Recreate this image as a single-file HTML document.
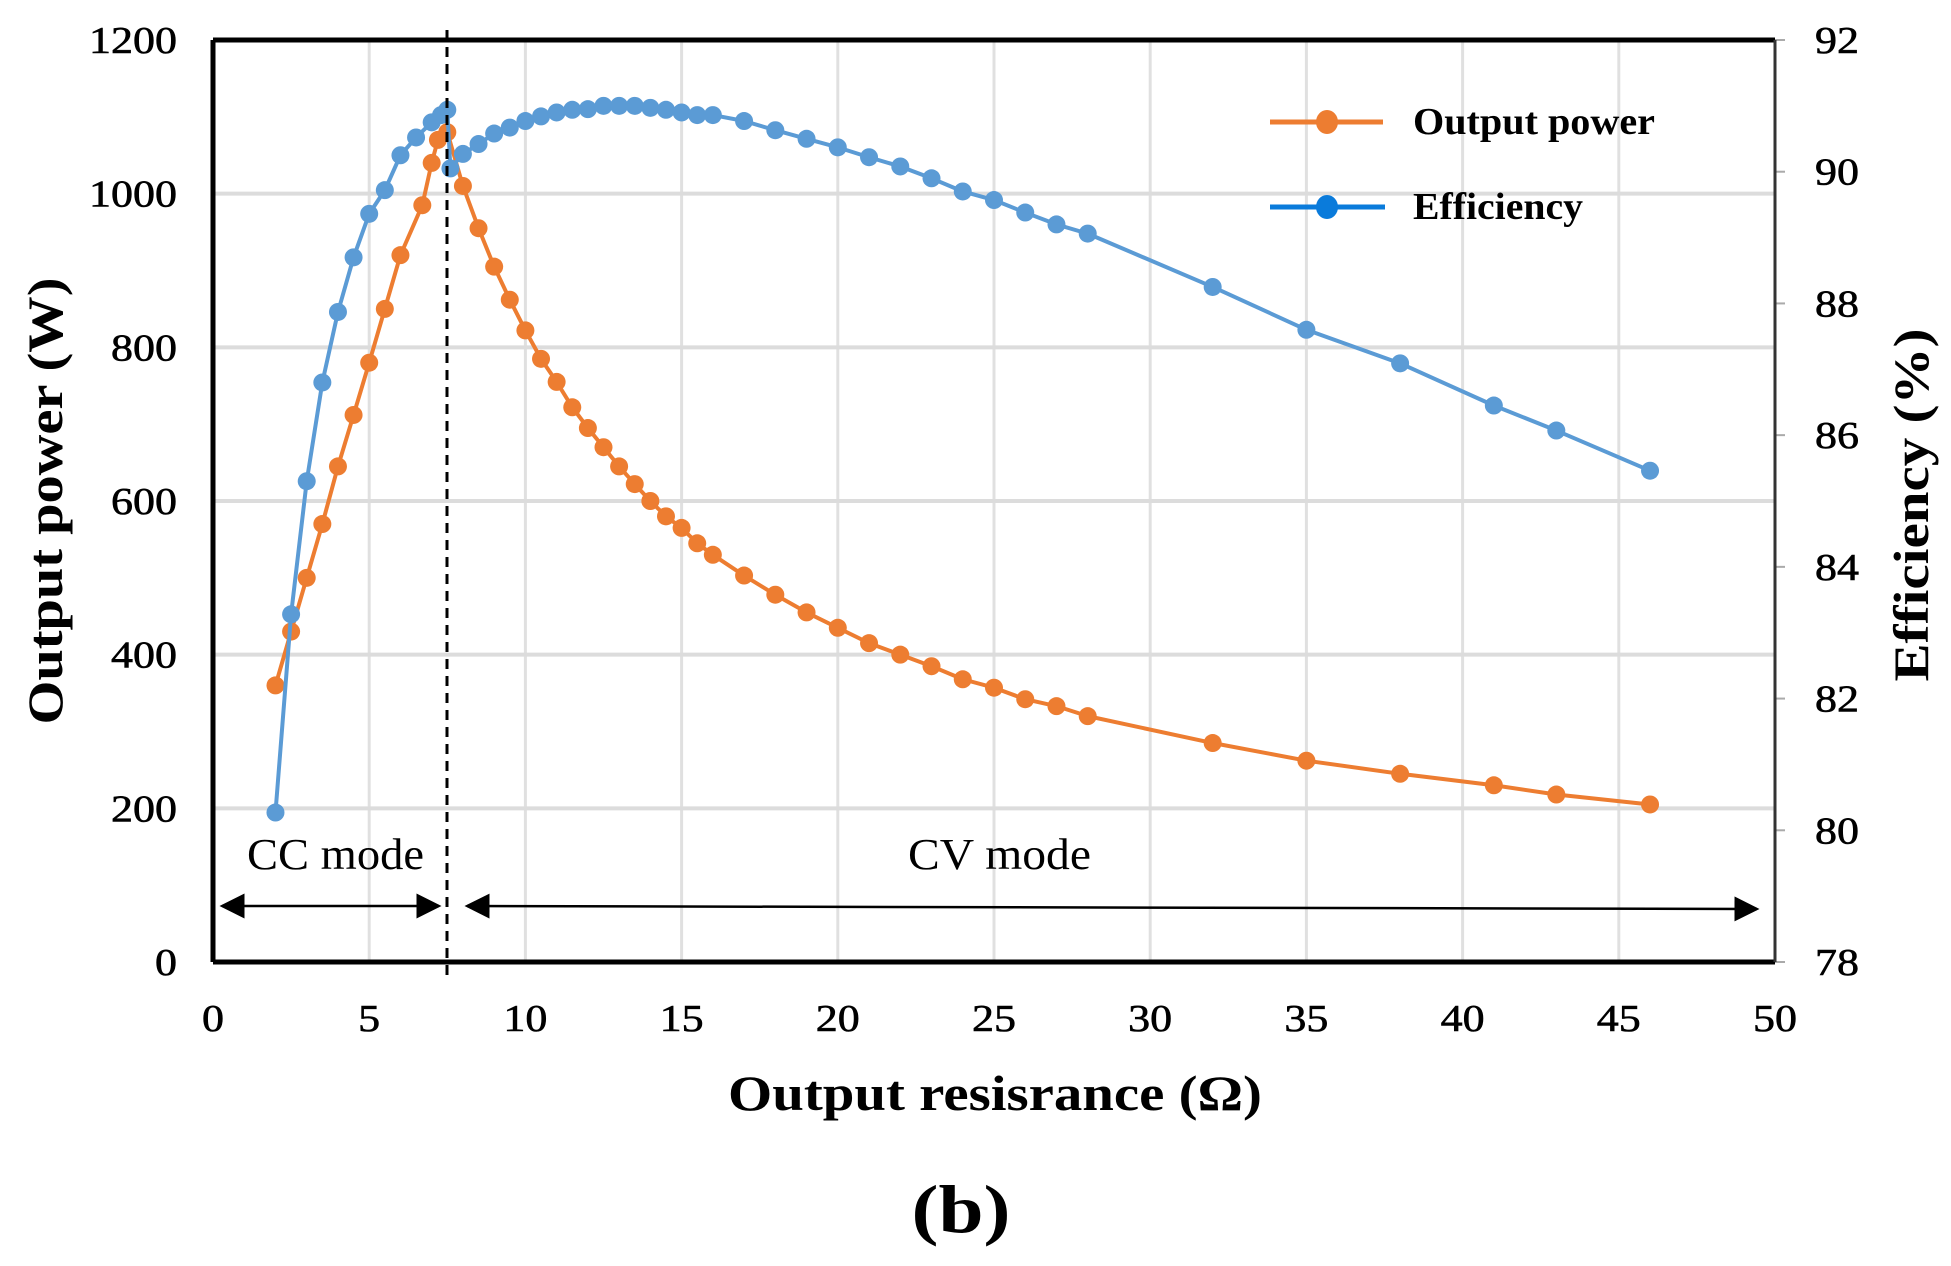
<!DOCTYPE html>
<html><head><meta charset="utf-8"><style>
html,body{margin:0;padding:0;background:#fff;}
svg{display:block;font-family:"Liberation Serif",serif;}
</style></head><body>
<svg id="chart" width="1951" height="1266" viewBox="0 0 1951 1266">
<g id="grid"></g>
<g id="series"></g>
<g id="axes"></g>
</svg>
<script>
const xs = [2,2.5,3,3.5,4,4.5,5,5.5,6,6.7,7,7.2,7.5,8,8.5,9,9.5,10,10.5,11,11.5,12,12.5,13,13.5,14,14.5,15,15.5,16,17,18,19,20,21,22,23,24,25,26,27,28,32,35,38,41,43,46];
const powerVals = [360,430,500,570,645,712,780,850,920,985,1040,1070,1080,1010,955,905,862,822,785,755,722,695,670,645,622,600,580,565,545,530,503,478,455,435,415,400,385,368,357,342,333,320,285,262,245,230,218,205];
const effX = [2,2.5,3,3.5,4,4.5,5,5.5,6,6.5,7,7.3,7.5,7.6,8,8.5,9,9.5,10,10.5,11,11.5,12,12.5,13,13.5,14,14.5,15,15.5,16,17,18,19,20,21,22,23,24,25,26,27,28,32,35,38,41,43,46];
const effVals = [80.27,83.28,85.3,86.8,87.87,88.7,89.36,89.72,90.25,90.52,90.75,90.86,90.94,90.05,90.27,90.42,90.58,90.67,90.77,90.84,90.9,90.94,90.95,91.0,91.0,91.0,90.97,90.94,90.9,90.86,90.86,90.77,90.63,90.5,90.37,90.22,90.08,89.9,89.7,89.57,89.38,89.2,89.06,88.25,87.6,87.09,86.45,86.07,85.46];
const xTicks = [0,5,10,15,20,25,30,35,40,45,50];
const powerTicks = [0,200,400,600,800,1000,1200];
const effTicks = [78,80,82,84,86,88,90,92];

const L=213,R=1775,T=40,B=962;
const sx=v=>L+(v-0)/(50-0)*(R-L);
const sy=v=>B-(v/1200)*(B-T);
const se=v=>B-((v-78)/14)*(B-T);
const NS="http://www.w3.org/2000/svg";
function mk(p,tag,attrs){const e=document.createElementNS(NS,tag);for(const k in attrs)e.setAttribute(k,attrs[k]);p.appendChild(e);return e;}
const grid=document.getElementById('grid'),ser=document.getElementById('series'),ax=document.getElementById('axes');
function tl(s){return String(s).length*22;}

xTicks.forEach(t=>{
  if(t>0&&t<50){const g=mk(grid,'line',{x1:sx(t),x2:sx(t),y1:T,y2:B,stroke:'#e0e0e0','stroke-width':3});
  
  }
  const tx=mk(ax,'text',{x:sx(t),y:1031,'text-anchor':'middle','font-size':38,fill:'#000',stroke:'#000','stroke-width':0.6,textLength:tl(t),lengthAdjust:'spacingAndGlyphs'});tx.textContent=t;
  
  
});
powerTicks.forEach(t=>{
  if(t>0&&t<1200){const g=mk(grid,'line',{x1:L,x2:R,y1:sy(t),y2:sy(t),stroke:'#dcdcdc','stroke-width':4});
  
  }
  const tx=mk(ax,'text',{x:177,y:sy(t)+13,'text-anchor':'end','font-size':38,fill:'#000',stroke:'#000','stroke-width':0.6,textLength:tl(t),lengthAdjust:'spacingAndGlyphs'});tx.textContent=t;
  
  
});
effTicks.forEach(t=>{
  const tk=mk(ax,'line',{x1:R,x2:R+10,y1:se(t),y2:se(t),stroke:'#aaa','stroke-width':2});
  
  
  const tx=mk(ax,'text',{x:1815,y:se(t)+13,'text-anchor':'start','font-size':38,fill:'#000',stroke:'#000','stroke-width':0.6,textLength:tl(t),lengthAdjust:'spacingAndGlyphs'});tx.textContent=t;
  
  
});

function series(xv,yv,scale,color,name){
  const pts=xv.map((x,i)=>sx(x)+','+scale(yv[i])).join(' ');
  const pl=mk(ser,'polyline',{points:pts,fill:'none',stroke:color,'stroke-width':4,'stroke-linejoin':'round'});
  
  
  xv.forEach((x,i)=>{const c=mk(ser,'circle',{cx:sx(x),cy:scale(yv[i]),r:9,fill:color});
    
    });
}
series(xs,powerVals,sy,'#ED7D31','output-power');
series(effX,effVals,se,'#5B9BD5','efficiency');
</script>
<svg width="1951" height="1266" viewBox="0 0 1951 1266" style="position:absolute;left:0;top:0;font-family:'Liberation Serif',serif;">
<defs><marker id="ah" markerWidth="10" markerHeight="10" refX="9" refY="5" orient="auto-start-reverse"><path d="M0,0 L10,5 L0,10 z" fill="#000"/></marker></defs>
<line x1="213" y1="40" x2="1775" y2="40" stroke="#000" stroke-width="5"/>
<line x1="213" y1="40" x2="213" y2="962" stroke="#000" stroke-width="5"/>
<line x1="213" y1="962" x2="1775" y2="962" stroke="#000" stroke-width="5"/>
<line x1="1775" y1="40" x2="1775" y2="962" stroke="#333" stroke-width="3"/>
<line x1="447" y1="30" x2="447" y2="975" stroke="#000" stroke-width="3" stroke-dasharray="10,7"/>
<line x1="222" y1="906" x2="439" y2="906" stroke="#000" stroke-width="2.5" marker-start="url(#ah)" marker-end="url(#ah)"/>
<line x1="467" y1="906" x2="1757" y2="909" stroke="#000" stroke-width="2.5" marker-start="url(#ah)" marker-end="url(#ah)"/>
<text x="247" y="869" font-size="44" textLength="177" lengthAdjust="spacingAndGlyphs">CC mode</text>
<text x="908" y="869" font-size="44" textLength="183" lengthAdjust="spacingAndGlyphs">CV mode</text>
<g>
<line x1="1270" y1="122" x2="1383" y2="122" stroke="#ED7D31" stroke-width="5"/>
<ellipse cx="1327" cy="122" rx="11" ry="12" fill="#ED7D31"/>
<text x="1413" y="134" font-size="38" font-weight="bold" textLength="242" lengthAdjust="spacingAndGlyphs">Output power</text>
<line x1="1270" y1="207" x2="1385" y2="207" stroke="#0A7BDB" stroke-width="5"/>
<ellipse cx="1327" cy="207" rx="11" ry="12" fill="#0A7BDB"/>
<text x="1413" y="219" font-size="38" font-weight="bold" textLength="170" lengthAdjust="spacingAndGlyphs">Efficiency</text>
</g>
<text transform="translate(62,501) rotate(-90)" text-anchor="middle" font-size="50" font-weight="bold" textLength="447" lengthAdjust="spacingAndGlyphs">Output power (W)</text>
<text transform="translate(1928,505) rotate(-90)" text-anchor="middle" font-size="50" font-weight="bold" textLength="353" lengthAdjust="spacingAndGlyphs">Efficiency (%)</text>
<text x="995" y="1110" text-anchor="middle" font-size="50" font-weight="bold" textLength="534" lengthAdjust="spacingAndGlyphs">Output resisrance (Ω)</text>
<text x="961" y="1232" text-anchor="middle" font-size="68" font-weight="bold" textLength="99" lengthAdjust="spacingAndGlyphs">(b)</text>
</svg>
</body></html>
